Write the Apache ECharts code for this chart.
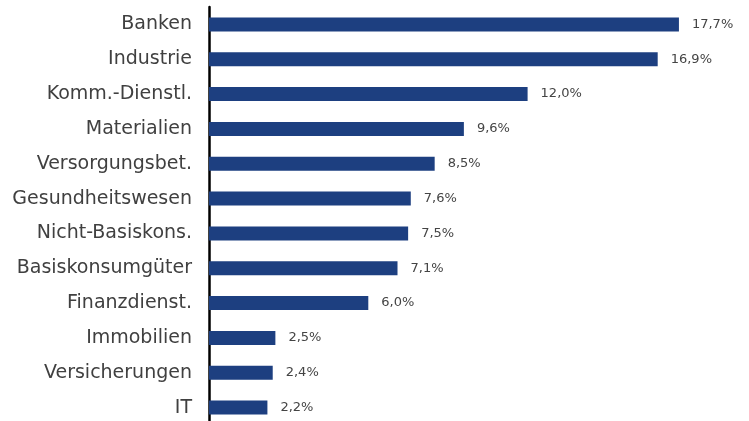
<!DOCTYPE html>
<html><head><meta charset="utf-8">
<script src="https://cdn.jsdelivr.net/npm/echarts@6/dist/echarts.min.js"></script>
<style>html,body{margin:0;padding:0;background:#fff}#c{width:749px;height:421px}</style>
</head><body><div id="c"></div>
<script>
const categories = ['Banken','Industrie','Komm.-Dienstl.','Materialien','Versorgungsbet.','Gesundheitswesen','Nicht-Basiskons.','Basiskonsumgüter','Finanzdienst.','Immobilien','Versicherungen','IT'];
const values = [17.7,16.9,12.0,9.6,8.5,7.6,7.5,7.1,6.0,2.5,2.4,2.2];

const chart = echarts.init(document.getElementById('c'), null, {renderer:'canvas'});
chart.setOption({
  animation:false,
  grid:{left:209, top:7, width:531, height:418, containLabel:false, outerBoundsMode:'none'},
  xAxis:{type:'value', min:0, max:20, show:false},
  yAxis:{type:'category', data:categories, inverse:true,
    axisLine:{show:true, lineStyle:{color:'#000', width:2.5}},
    axisTick:{show:false},
    axisLabel:{color:'#404040', fontSize:19, fontFamily:'DejaVu Sans', margin:17}
  },
  series:[{type:'bar', data:values, barWidth:14,
    itemStyle:{color:'#1d3f80'},
    label:{show:true, position:'right', distance:13, color:'#444', fontSize:13, fontFamily:'DejaVu Sans',
      formatter:p=>p.value.toFixed(1).replace('.',',')+'%'}
  }]
});
</script></body></html>
